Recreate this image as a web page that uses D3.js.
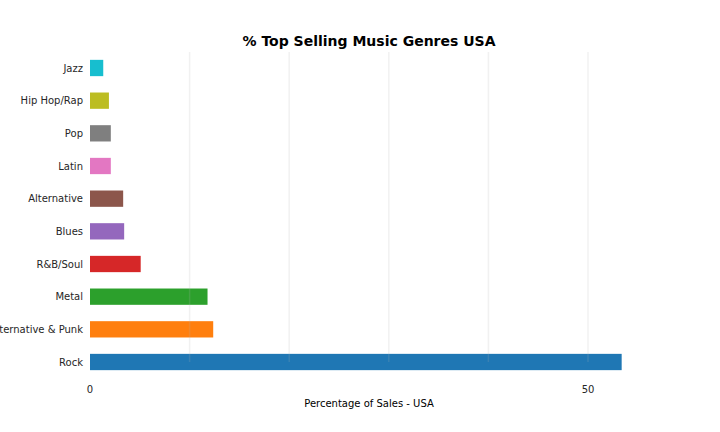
<!DOCTYPE html>
<html><head><meta charset="utf-8">
<script src="https://cdn.jsdelivr.net/npm/d3@7"></script>
<style>body{margin:0;background:#fff}svg{display:block}text{font-family:"DejaVu Sans",sans-serif}</style>
</head><body>
<svg id="c" width="720" height="432"></svg>
<script>
const genres = ["Rock","Alternative & Punk","Metal","R&B/Soul","Blues","Alternative","Latin","Pop","Hip Hop/Rap","Jazz"];
const pct = [53.38,12.37,11.80,5.09,3.43,3.33,2.09,2.09,1.90,1.33];
const colors = ["#1f77b4","#ff7f0e","#2ca02c","#d62728","#9467bd","#8c564b","#e377c2","#7f7f7f","#bcbd22","#17becf"];
const xTicks = [0,50];
const gridVals = [10,20,30,40,50];

const svg = d3.select("#c");
const x = d3.scaleLinear().domain([0,50]).range([90,588]);
const y = d3.scalePoint().domain(genres).range([362,68]);
const bh = 16.3;

svg.append("g").selectAll("rect").data(genres).join("rect")
  .attr("x", x(0)).attr("y", d => y(d) - bh/2)
  .attr("width", (d,i) => x(pct[i]) - x(0)).attr("height", bh)
  .attr("fill", (d,i) => colors[i]);

svg.append("g").selectAll("line").data(gridVals).join("line")
  .attr("x1", d => x(d)).attr("x2", d => x(d))
  .attr("y1", 52).attr("y2", 362)
  .attr("stroke", "#b0b0b0").attr("stroke-opacity", 0.18).attr("stroke-width", 1.5);

svg.append("g").selectAll("text").data(genres).join("text")
  .attr("x", 83).attr("y", d => y(d)).attr("dy", "0.35em")
  .attr("text-anchor", "end").attr("font-size", 10).attr("fill", "#262626")
  .text(d => d);

svg.append("g").selectAll("text").data(xTicks).join("text")
  .attr("x", d => x(d)).attr("y", 393)
  .attr("text-anchor", "middle").attr("font-size", 10).attr("fill", "#262626")
  .text(d => d);

svg.append("text").attr("x", 369).attr("y", 407).attr("text-anchor", "middle")
  .attr("font-size", 10).attr("fill", "#000").text("Percentage of Sales - USA");

svg.append("text").attr("x", 369).attr("y", 46).attr("text-anchor", "middle")
  .attr("font-size", 14).attr("font-weight", "bold").attr("fill", "#000")
  .text("% Top Selling Music Genres USA");
</script>
</body></html>
